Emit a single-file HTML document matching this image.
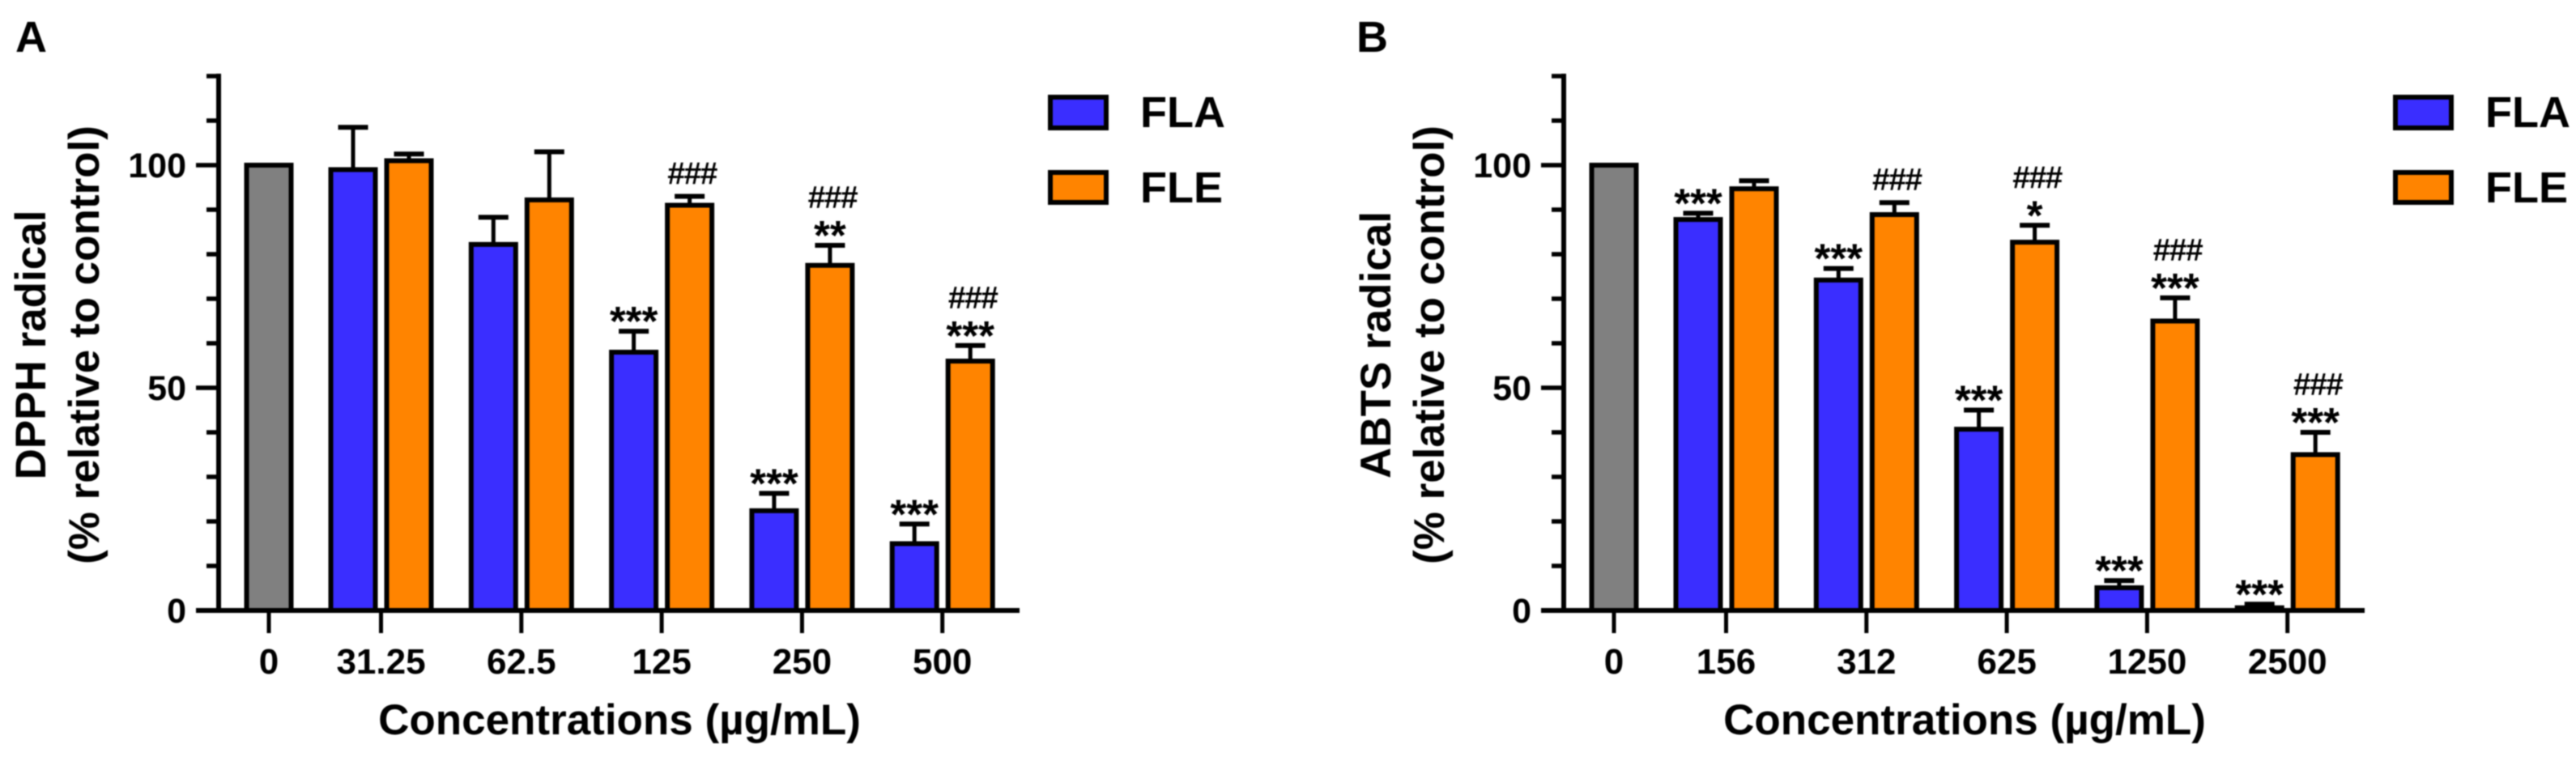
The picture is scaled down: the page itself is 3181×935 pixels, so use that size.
<!DOCTYPE html>
<html lang="en">
<head>
<meta charset="utf-8">
<title>DPPH and ABTS radical scavenging charts</title>
<style>
html,body{margin:0;padding:0;background:#fff;}
svg{display:block;filter:blur(0.7px);}
text{font-family:"Liberation Sans",Arial,sans-serif;font-weight:bold;fill:#000;}
</style>
</head>
<body>
<svg id="figure" xmlns="http://www.w3.org/2000/svg" width="3181" height="935" viewBox="0 0 3181 935"></svg>
<script>
const yTickValues = [0,10,20,30,40,50,60,70,80,90,100,110,120];
const yTickLabels = ['0','50','100'];
const controlValue = [100];

const panelACategories = ['31.25','62.5','125','250','500'];
const panelAFla = [99,82.2,58,22.4,15];
const panelAFlaErr = [9.5,6.1,4.7,3.9,4.4];
const panelAFle = [101,92.2,91,77.5,56];
const panelAFleErr = [1.5,10.8,2,4.5,3.5];
const panelAFlaStars = ['','','***','***','***'];
const panelAFleStars = ['','','','**','***'];
const panelAFleHash = ['','','###','###','###'];

const panelBCategories = ['156','312','625','1250','2500'];
const panelBFla = [87.8,74.2,40.7,5.1,0.6];
const panelBFlaErr = [1.4,2.6,4.3,1.6,0.8];
const panelBFle = [94.7,88.9,82.7,65,35];
const panelBFleErr = [1.8,2.7,3.8,5.2,5];
const panelBFlaStars = ['***','***','***','***','***'];
const panelBFleStars = ['','','*','***','***'];
const panelBFleHash = ['','###','###','###','###'];

const NS = 'http://www.w3.org/2000/svg';
const root = document.getElementById('figure');
const FLA_COLOR = '#3a2eff';
const FLE_COLOR = '#ff8400';
const CONTROL_COLOR = '#808080';

function yScale(v){ return 754 - 5.5 * v; }
function xGroup(k){ return 470.5 + 173.3 * k; }
const X_CONTROL = 332;

function makeLine(parent, name, x1, y1, x2, y2, w){
  const el = document.createElementNS(NS, 'line');
  
  
  el.setAttribute('x1', x1);
  el.setAttribute('y1', y1);
  el.setAttribute('x2', x2);
  el.setAttribute('y2', y2);
  el.setAttribute('stroke', '#000');
  el.setAttribute('stroke-width', w);
  parent.appendChild(el);
  return el;
}
function makeRect(parent, name, x, y, w, h, fill){
  const el = document.createElementNS(NS, 'rect');
  
  
  el.setAttribute('x', x);
  el.setAttribute('y', y);
  el.setAttribute('width', w);
  el.setAttribute('height', h);
  el.setAttribute('fill', fill);
  el.setAttribute('stroke', '#000');
  el.setAttribute('stroke-width', 6);
  parent.appendChild(el);
  return el;
}
function makeText(parent, name, x, y, size, anchor, content, rotate){
  const el = document.createElementNS(NS, 'text');
  
  
  el.setAttribute('x', x);
  el.setAttribute('y', y);
  el.setAttribute('font-size', size);
  el.setAttribute('text-anchor', anchor);
  if (rotate) { el.setAttribute('transform', 'rotate(-90 ' + x + ' ' + y + ')'); }
  el.textContent = content;
  parent.appendChild(el);
  return el;
}
function drawBar(g, name, cx, value, err, color){
  const top = yScale(value);
  if (err > 0) {
    const capY = yScale(value + err);
    makeLine(g, name + '-error-stem', cx, top, cx, capY, 5);
    makeLine(g, name + '-error-cap', cx - 18.5, capY, cx + 18.5, capY, 6);
  }
  makeRect(g, name, cx - 27.5, top, 55, yScale(0) - top, color);
}
function drawMarks(g, name, cx, value, err, stars, hash){
  const capY = yScale(value + err);
  if (stars) {
    makeText(g, name + '-significance-stars', cx, capY - 24 + 29, 51, 'middle', stars);
  }
  if (hash) {
    const hashCenter = stars ? capY - 24 - 36 : capY - 29;
    const hashEl = makeText(g, name + '-significance-hash', cx + 3, hashCenter + 14, 39, 'middle', hash);
    hashEl.setAttribute('letter-spacing', '-1.5');
  }
}
function drawPanel(opts){
  const g = document.createElementNS(NS, 'g');
  
  
  g.setAttribute('transform', 'translate(' + opts.dx + ',0)');
  root.appendChild(g);

  makeText(g, 'panel-letter', opts.letterX, 64, 54, 'start', opts.letter);

  drawBar(g, 'bar-control', X_CONTROL, controlValue[0], 0, CONTROL_COLOR);
  opts.categories.forEach(function(cat, k){
    const c = xGroup(k);
    drawBar(g, 'bar-fla-' + cat, c - 34.5, opts.fla[k], opts.flaErr[k], FLA_COLOR);
    drawBar(g, 'bar-fle-' + cat, c + 34.5, opts.fle[k], opts.fleErr[k], FLE_COLOR);
    drawMarks(g, 'fla-' + cat, c - 34.5, opts.fla[k], opts.flaErr[k], opts.flaStars[k], '');
    drawMarks(g, 'fle-' + cat, c + 34.5, opts.fle[k], opts.fleErr[k], opts.fleStars[k], opts.fleHash[k]);
  });

  makeLine(g, 'y-axis-line', 270, yScale(120) - 3, 270, yScale(0) + 3, 6);
  makeLine(g, 'x-axis-line', 242, yScale(0), 1259, yScale(0), 6);
  yTickValues.forEach(function(v){
    const major = yTickLabels.indexOf(String(v)) >= 0;
    if (v !== 0) { makeLine(g, 'y-tick-' + v, major ? 242 : 255, yScale(v), 270, yScale(v), 5.5); }
    if (major) { makeText(g, 'y-tick-label-' + v, 230, yScale(v) + 15, 43, 'end', String(v)); }
  });
  makeLine(g, 'x-tick-control', X_CONTROL, yScale(0), X_CONTROL, 782, 5);
  makeText(g, 'x-tick-label-control', X_CONTROL, 832, 44, 'middle', '0');
  opts.categories.forEach(function(cat, k){
    makeLine(g, 'x-tick-' + cat, xGroup(k), yScale(0), xGroup(k), 782, 5);
    makeText(g, 'x-tick-label-' + cat, xGroup(k), 832, 44, 'middle', cat);
  });

  makeText(g, 'x-axis-title', 765, 907, 53, 'middle', 'Concentrations (\u00b5g/mL)');
  makeText(g, 'y-axis-title-line-1', 56, 426, 53, 'middle', opts.yTitle, true);
  makeText(g, 'y-axis-title-line-2', 122, 426, 53, 'middle', '(% relative to control)', true);

  makeRect(g, 'legend-swatch-fla', 1297, 120, 69, 38, FLA_COLOR);
  makeText(g, 'legend-label-fla', 1408, 157, 54, 'start', 'FLA');
  makeRect(g, 'legend-swatch-fle', 1297, 213, 69, 37, FLE_COLOR);
  makeText(g, 'legend-label-fle', 1408, 250, 54, 'start', 'FLE');
}

drawPanel({id:'panel-a-dpph', dx:0, letter:'A', letterX:19, yTitle:'DPPH radical',
  categories:panelACategories, fla:panelAFla, flaErr:panelAFlaErr, fle:panelAFle, fleErr:panelAFleErr,
  flaStars:panelAFlaStars, fleStars:panelAFleStars, fleHash:panelAFleHash});
drawPanel({id:'panel-b-abts', dx:1661, letter:'B', letterX:14, yTitle:'ABTS radical',
  categories:panelBCategories, fla:panelBFla, flaErr:panelBFlaErr, fle:panelBFle, fleErr:panelBFleErr,
  flaStars:panelBFlaStars, fleStars:panelBFleStars, fleHash:panelBFleHash});
</script>
</body>
</html>
